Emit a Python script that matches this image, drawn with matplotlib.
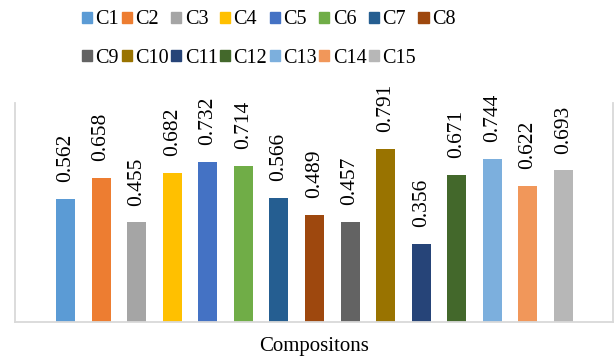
import numpy as np
import matplotlib.pyplot as plt
from matplotlib.patches import Patch

labels = ["C1", "C2", "C3", "C4", "C5", "C6", "C7", "C8",
          "C9", "C10", "C11", "C12", "C13", "C14", "C15"]
values = [0.562, 0.658, 0.455, 0.682, 0.732, 0.714, 0.566, 0.489,
          0.457, 0.791, 0.356, 0.671, 0.744, 0.622, 0.693]
colors = ["#5B9BD5", "#ED7D31", "#A5A5A5", "#FFC000", "#4472C4",
          "#70AD47", "#255E91", "#9E480E", "#636363", "#997300",
          "#264478", "#43682B", "#7CAFDD", "#F1975A", "#B7B7B7"]


def main():
    plt.rcParams["font.family"] = ["Liberation Serif", "DejaVu Serif"]
    fig = plt.figure(figsize=(6.14, 3.62), dpi=100)
    ax = fig.add_axes([15 / 614, 1 - 322 / 362, 598 / 614, 219 / 362])

    x = np.arange(len(values))
    ax.bar(x, values, width=0.534, color=colors)
    for xi, v in zip(x, values):
        ax.annotate(f"{v:.3f}", (xi, v), xytext=(0, 12),
                    textcoords="offset points", rotation=90,
                    ha="center", va="bottom", fontsize=15.5)

    ax.set_xlim(-1.42, 15.39)
    ax.set_ylim(0, 1.0)
    ax.set_xticks([])
    ax.set_yticks([])
    for side in ["left", "right", "bottom"]:
        ax.spines[side].set_color("#D9D9D9")
        ax.spines[side].set_linewidth(1.3)
    ax.spines["top"].set_visible(False)
    ax.set_xlabel("Compositons", fontsize=15, labelpad=11)

    # legend fills column-major, reorder so rows read C1..C8 / C9..C15
    handles = [Patch(color=c, label=l) for c, l in zip(colors, labels)]
    order = []
    for i in range(8):
        order.append(i)
        if i + 8 < len(handles):
            order.append(i + 8)
    fig.legend([handles[i] for i in order], [labels[i] for i in order],
               ncol=8, loc="upper left", bbox_to_anchor=(68 / 614, 1.01),
               frameon=False, fontsize=14.5, handlelength=0.5,
               handleheight=0.5, handletextpad=0.17, columnspacing=0.12,
               labelspacing=0.95, borderaxespad=0.3)

    fig.savefig("out.png", dpi=100)


if __name__ == "__main__":
    main()
